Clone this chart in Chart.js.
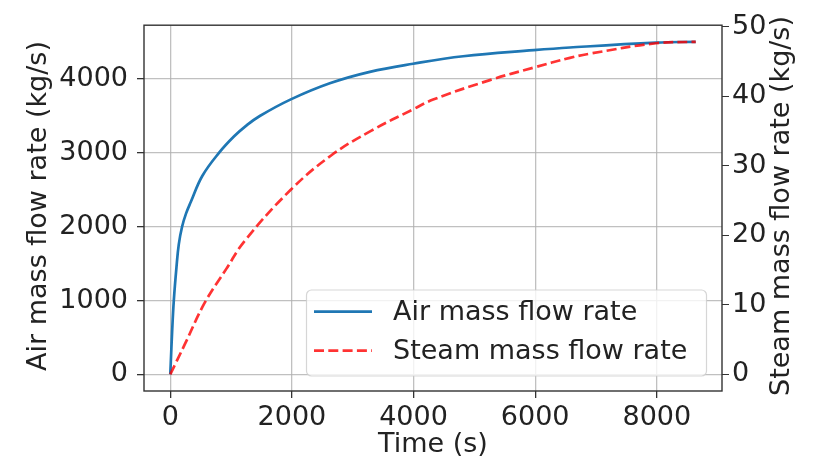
<!DOCTYPE html>
<html>
<head>
<meta charset="utf-8">
<script src="https://cdn.jsdelivr.net/npm/chart.js@4/dist/chart.umd.min.js"></script>
<style>
  html, body { margin: 0; padding: 0; background: #fff; }
  #wrap { width: 818px; height: 462px; }
</style>
</head>
<body>
<div id="wrap"><canvas id="grafico" width="818" height="462"></canvas></div>
<script>
// Datos
const tiempoAire = [0, 8, 30, 58, 102, 140, 194, 260, 337, 526, 800, 1050, 1250, 1472, 1982, 2623, 3281, 3993, 4816, 5978, 6571, 7985, 8640];
const aire = [0, 150, 572, 1000, 1454, 1762, 2000, 2181, 2334, 2687, 3000, 3225, 3370, 3500, 3725, 3943, 4098, 4208, 4309, 4392, 4428, 4494, 4505];

const tiempoVapor = [0, 238, 567, 924, 1225, 1977, 2650, 3300, 3993, 4322, 5255, 5978, 6571, 6900, 7985, 8640];
const vapor = [0, 4.3, 10.3, 15.2, 19.2, 26.5, 31.5, 35.0, 38.1, 39.5, 42.3, 44.1, 45.5, 46.1, 47.6, 47.8];

const ticksX = [0, 2000, 4000, 6000, 8000];
const ticksAire = [0, 1000, 2000, 3000, 4000];
const ticksVapor = [0, 10, 20, 30, 40, 50];

const etiquetas = ['Air mass flow rate', 'Steam mass flow rate'];
const tituloX = 'Time (s)';
const tituloAire = 'Air mass flow rate (kg/s)';
const tituloVapor = 'Steam mass flow rate (kg/s)';

const FUENTE = '"DejaVu Sans", sans-serif';
const TAM = 27;
const AZUL = '#1f77b4';
const ROJO = 'rgba(255,0,0,0.8)';

Chart.defaults.font.family = FUENTE;
Chart.defaults.font.size = TAM;
Chart.defaults.color = '#222';

const fijarTicks = lista => scale => { scale.ticks = lista.map(v => ({ value: v })); };
const sinComas = v => String(v);

// Marco, titulos y leyenda
const extras = {
  id: 'extras',
  afterDatasetsDraw(chart) {
    const c = chart.ctx;
    const a = chart.chartArea;
    c.save();
    c.strokeStyle = '#333';
    c.lineWidth = 1.4;
    c.strokeRect(a.left, a.top, a.right - a.left, a.bottom - a.top);

    // leyenda
    c.beginPath();
    if (c.roundRect) c.roundRect(306.5, 290, 400, 86, 5); else c.rect(306.5, 290, 400, 86);
    c.fillStyle = 'rgba(255,255,255,0.8)';
    c.fill();
    c.strokeStyle = 'rgba(204,204,204,0.8)';
    c.lineWidth = 1.2;
    c.stroke();

    const filas = [311.7, 350.7];
    const ds = chart.data.datasets;
    filas.forEach((y, i) => {
      c.beginPath();
      c.strokeStyle = ds[i].borderColor;
      c.lineWidth = ds[i].borderWidth;
      c.setLineDash(ds[i].borderDash || []);
      c.moveTo(314, y);
      c.lineTo(372, y);
      c.stroke();
      c.setLineDash([]);
      c.fillStyle = '#222';
      c.font = TAM + 'px ' + FUENTE;
      c.textBaseline = 'middle';
      c.textAlign = 'left';
      c.fillText(etiquetas[i], 393, y + 1);
    });

    // titulos de ejes
    c.fillStyle = '#222';
    c.font = TAM + 'px ' + FUENTE;
    c.textAlign = 'center';
    c.textBaseline = 'middle';
    c.fillText(tituloX, (a.left + a.right) / 2, 445);
    c.save();
    c.translate(38.5, 206);
    c.rotate(-Math.PI / 2);
    c.fillText(tituloAire, 0, 0);
    c.restore();
    c.save();
    c.translate(782, 206);
    c.rotate(-Math.PI / 2);
    c.fillText(tituloVapor, 0, 0);
    c.restore();
    c.restore();
  }
};

const ctx = document.getElementById('grafico').getContext('2d');
const chart = new Chart(ctx, {
  type: 'line',
  data: {
    datasets: [
      {
        label: etiquetas[0],
        data: tiempoAire.map((t, i) => ({ x: t, y: aire[i] })),
        borderColor: AZUL,
        borderWidth: 2.7,
        pointRadius: 0,
        tension: 0.4,
        yAxisID: 'yAire',
        order: 2
      },
      {
        label: etiquetas[1],
        data: tiempoVapor.map((t, i) => ({ x: t, y: vapor[i] })),
        borderColor: ROJO,
        borderWidth: 2.7,
        borderDash: [10, 4.3],
        pointRadius: 0,
        tension: 0.4,
        yAxisID: 'yVapor',
        order: 1
      }
    ]
  },
  options: {
    responsive: false,
    animation: false,
    devicePixelRatio: 1,
    layout: { padding: { top: 15, left: 0, right: 0, bottom: 0 } },
    plugins: { legend: { display: false }, tooltip: { enabled: false } },
    scales: {
      x: {
        type: 'linear',
        min: -432,
        max: 9072,
        afterBuildTicks: fijarTicks(ticksX),
        afterFit: s => { s.height = 71; },
        grid: { color: 'rgba(176,176,176,0.8)', lineWidth: 1.3, tickColor: '#333', tickLength: 7 },
        border: { display: false },
        ticks: { padding: 4, maxRotation: 0, autoSkip: false, callback: sinComas }
      },
      yAire: {
        type: 'linear',
        position: 'left',
        min: -225,
        max: 4730,
        afterBuildTicks: fijarTicks(ticksAire),
        afterFit: s => { s.width = 144; },
        grid: { color: 'rgba(176,176,176,0.8)', lineWidth: 1.3, tickColor: '#333', tickLength: 7 },
        border: { display: false },
        ticks: { padding: 9, autoSkip: false, callback: sinComas }
      },
      yVapor: {
        type: 'linear',
        position: 'right',
        min: -2.39,
        max: 50.19,
        afterBuildTicks: fijarTicks(ticksVapor),
        afterFit: s => { s.width = 96; },
        grid: { drawOnChartArea: false, tickColor: '#333', tickLength: 7 },
        border: { display: false },
        ticks: { padding: 3, autoSkip: false, callback: sinComas }
      }
    }
  },
  plugins: [extras]
});
</script>
</body>
</html>
